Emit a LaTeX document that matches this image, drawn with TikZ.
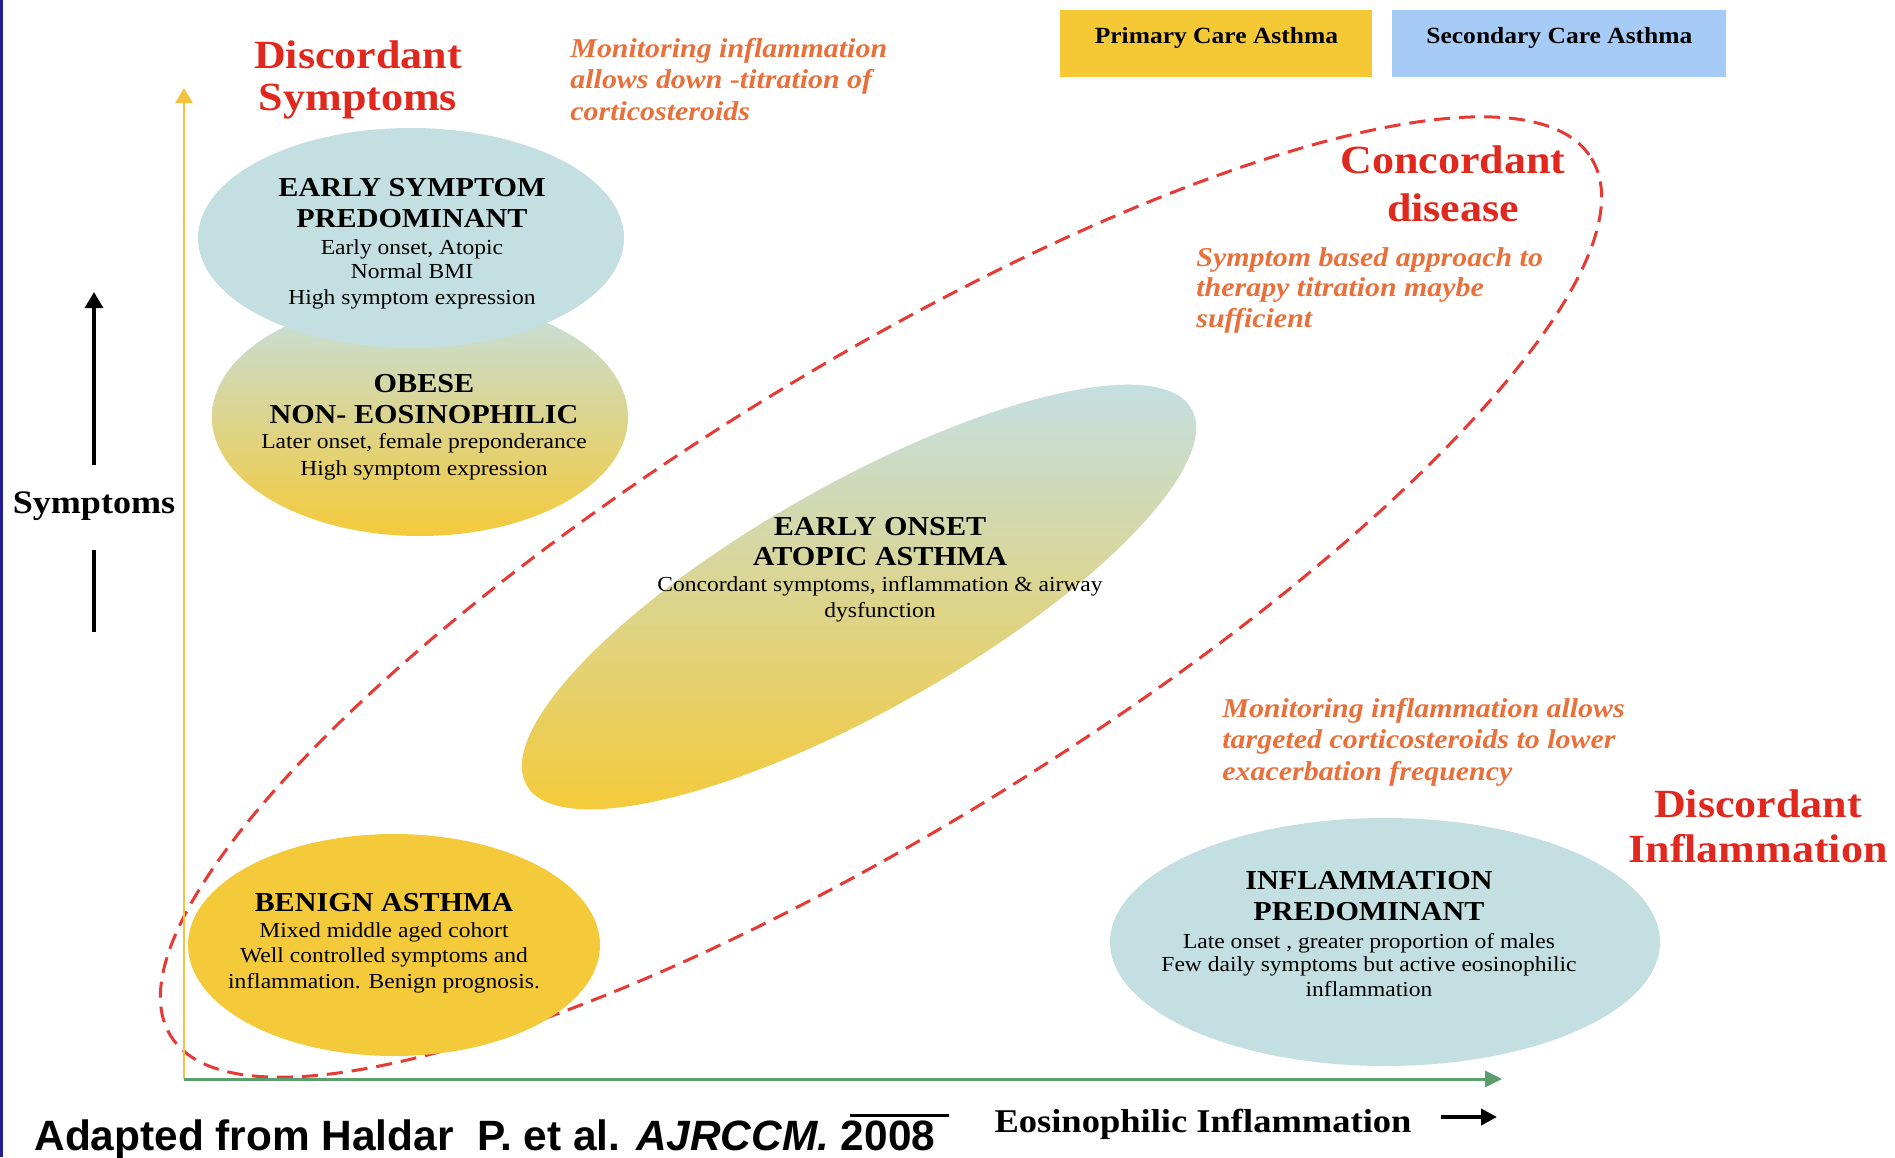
\documentclass[tikz,border=0pt]{standalone}
\usepackage{fontspec}
\setmainfont[FakeStretch=1.1]{Liberation Serif}
\newfontfamily\citefont{Liberation Sans}
\usetikzlibrary{shapes.geometric,arrows.meta}
\definecolor{titlered}{HTML}{E0281E}
\definecolor{noteorange}{HTML}{E9703A}
\definecolor{gold}{HTML}{F4CA3A}
\definecolor{legendgold}{HTML}{F4C935}
\definecolor{paleblue}{HTML}{C4DFE2}
\definecolor{legendblue}{HTML}{A5CBF6}
\definecolor{axisyellow}{HTML}{F5C23E}
\definecolor{axisgreen}{HTML}{5A9E6B}
\definecolor{dashred}{HTML}{E63A35}
\definecolor{navy}{HTML}{1F1F8F}
\begin{document}
\begin{tikzpicture}[x=0.5pt,y=-0.5pt,
  blob/.style={ellipse, inner sep=0pt, draw=none},
  txt/.style={inner sep=0pt, anchor=base},
  head/.style={txt, font=\fontsize{13.7}{15}\selectfont\bfseries},
  small/.style={txt, font=\fontsize{10.7}{12}\selectfont},
  bigred/.style={txt, text=titlered, font=\fontsize{20}{21}\selectfont\bfseries},
  note/.style={inner sep=0pt, anchor=base west, text=noteorange, font=\fontsize{13.6}{15}\selectfont\bfseries\itshape},
  legendbox/.style={inner sep=0pt, anchor=north west, minimum height=33.5pt, text height=16.5pt, text depth=17pt, font=\fontsize{11.6}{13}\selectfont\bfseries},
  axislabel/.style={txt, font=\fontsize{16.4}{18}\selectfont\bfseries}
]
\useasboundingbox (0,0) rectangle (1895,1157);
\fill[white] (0,0) rectangle (1895,1157);
\draw[navy, line width=1.4pt] (1.4,0) -- (1.4,1157);

% legend
\node[legendbox, fill=legendgold, minimum width=156pt] (primary) at (1060,10) {Primary Care Asthma};
\node[legendbox, fill=legendblue, minimum width=167pt] (secondary) at (1392,10) {Secondary Care Asthma};

% concordant region
\coordinate (conc) at (881,597);
\draw[dashred, line width=1.5pt, dash pattern=on 8pt off 4.5pt, rotate around={31.7:(conc)}] (conc) ellipse (835 and 229);

% phenotype ellipses
\node[blob, minimum width=208pt, minimum height=119pt, top color=paleblue, bottom color=gold] (obese) at (420,417) {};
\node[blob, minimum width=213pt, minimum height=110pt, fill=paleblue] (early) at (411,238) {};
\coordinate (onset) at (859,597);
\begin{scope}
  \clip[rotate around={29.5:(onset)}] (onset) ellipse (382 and 113);
  \shade[top color=paleblue, bottom color=gold] (470,384) rectangle (1250,811);
\end{scope}
\node[blob, minimum width=206pt, minimum height=111pt, fill=gold] (benign) at (394,945) {};
\node[blob, minimum width=275pt, minimum height=124pt, fill=paleblue] (inflam) at (1385,942) {};

% axes
\coordinate (origin) at (184,1079);
\coordinate (ytip) at (184,88);
\coordinate (xtip) at (1502,1079);
\draw[axisyellow, line width=1.35pt, -{Triangle[length=7.5pt,width=8.5pt]}] (origin) -- (ytip);
\draw[axisgreen, line width=1.5pt, -{Triangle[length=8.5pt,width=8pt]}] (origin) -- (xtip);

% Symptoms axis label and arrows
\node[axislabel] (symlab) at (94,513) {Symptoms};
\coordinate (symA) at (94,465);
\coordinate (symB) at (94,292);
\coordinate (symC) at (94,550);
\coordinate (symD) at (94,632);
\draw[black, line width=1.7pt, -{Triangle[length=8pt,width=9pt]}] (symA) -- (symB);
\draw[black, line width=1.7pt] (symC) -- (symD);

% x label
\node[txt, font=\fontsize{16.6}{18}\selectfont\bfseries] (xlab) at (1203,1132) {Eosinophilic Inflammation};
\coordinate (xarrA) at (1441,1117);
\coordinate (xarrB) at (1497,1117);
\draw[black, line width=2pt, -{Triangle[length=8pt,width=8pt]}] (xarrA) -- (xarrB);

% red titles
\node[bigred] (ds1) at (358,68) {Discordant};
\node[bigred] (ds2) at (358,110) {Symptoms};
\node[bigred] (cd1) at (1453,173) {Concordant};
\node[bigred] (cd2) at (1453,221) {disease};
\node[bigred] (di1) at (1758,817) {Discordant};
\node[bigred] (di2) at (1758,862) {Inflammation};

% orange notes
\node[note] (n1a) at (570,57) {Monitoring inflammation};
\node[note] (n1b) at (570,88) {allows down -titration of};
\node[note] (n1c) at (570,120) {corticosteroids};
\node[note] (n2a) at (1196,266) {Symptom based approach to};
\node[note] (n2b) at (1196,296) {therapy titration maybe};
\node[note] (n2c) at (1196,327) {sufficient};
\node[note] (n3a) at (1222,717) {Monitoring inflammation allows};
\node[note] (n3b) at (1222,748) {targeted corticosteroids to lower};
\node[note] (n3c) at (1222,780) {exacerbation frequency};

% ellipse texts
\node[head] (es1) at (412,196) {EARLY SYMPTOM};
\node[head] (es2) at (412,227) {PREDOMINANT};
\node[small] (es3) at (412,254) {Early onset, Atopic};
\node[small] (es4) at (412,278) {Normal BMI};
\node[small] (es5) at (412,304) {High symptom expression};

\node[head] (ob1) at (424,392) {OBESE};
\node[head] (ob2) at (424,423) {NON- EOSINOPHILIC};
\node[small] (ob3) at (424,448) {Later onset, female preponderance};
\node[small] (ob4) at (424,475) {High symptom expression};

\node[head] (eo1) at (880,535) {EARLY ONSET};
\node[head] (eo2) at (880,565) {ATOPIC ASTHMA};
\node[small] (eo3) at (880,591) {Concordant symptoms, inflammation \& airway};
\node[small] (eo4) at (880,617) {dysfunction};

\node[head] (ba1) at (384,911) {BENIGN ASTHMA};
\node[small] (ba2) at (384,937) {Mixed middle aged cohort};
\node[small] (ba3) at (384,962) {Well controlled symptoms and};
\node[small] (ba4) at (384,988) {inflammation. Benign prognosis.};

\node[head] (ip1) at (1369,889) {INFLAMMATION};
\node[head] (ip2) at (1369,920) {PREDOMINANT};
\node[small] (ip3) at (1369,948) {Late onset , greater proportion of males};
\node[small] (ip4) at (1369,971) {Few daily symptoms but active eosinophilic};
\node[small] (ip5) at (1369,996) {inflammation};

% citation
\node[inner sep=0pt, anchor=base west, font=\citefont\fontsize{21.2}{24}\selectfont\bfseries] (cite) at (34,1150) {Adapted from Haldar\ \ P. et al. \textit{AJRCCM.} 2008};
\coordinate (barA) at (850,1115);
\coordinate (barB) at (949,1115);
\draw[black, line width=1.5pt] (barA) -- (barB);
\end{tikzpicture}
\end{document}
